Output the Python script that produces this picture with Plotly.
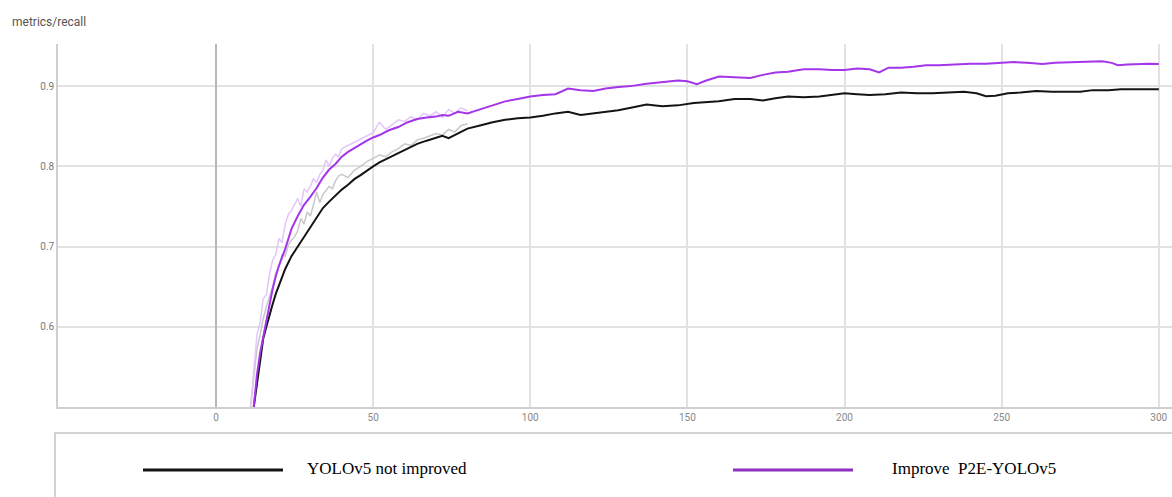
import plotly.graph_objects as go

# ---------------- data ----------------
epochs_base = [12, 13, 14, 15, 16, 17, 18, 19, 20, 22, 24, 26, 28, 30, 32, 34, 36, 38, 40, 42,
               44, 46, 48, 50, 52, 55, 58, 61, 64, 67, 70, 72, 74, 77, 80, 84, 88, 92, 96, 100,
               104, 108, 112, 116, 120, 124, 128, 132, 137, 142, 147, 152, 156, 160, 165, 170,
               174, 178, 182, 187, 192, 196, 200, 204, 208, 213, 218, 223, 228, 233, 238, 242,
               245, 248, 252, 256, 261, 266, 271, 275, 279, 284, 288, 292, 296, 300]
recall_base = [0.500, 0.530, 0.560, 0.585, 0.600, 0.615, 0.628, 0.641, 0.652, 0.672, 0.688, 0.700,
               0.713, 0.725, 0.737, 0.748, 0.756, 0.764, 0.771, 0.777, 0.784, 0.789, 0.795, 0.800,
               0.805, 0.811, 0.817, 0.823, 0.828, 0.832, 0.836, 0.838, 0.835, 0.841, 0.847, 0.851,
               0.855, 0.858, 0.860, 0.861, 0.863, 0.866, 0.868, 0.864, 0.866, 0.868, 0.870, 0.873,
               0.877, 0.875, 0.876, 0.879, 0.880, 0.881, 0.884, 0.884, 0.882, 0.885, 0.887, 0.886,
               0.887, 0.889, 0.891, 0.890, 0.889, 0.890, 0.892, 0.891, 0.891, 0.892, 0.893, 0.891,
               0.8875, 0.888, 0.891, 0.892, 0.894, 0.893, 0.893, 0.893, 0.895, 0.895, 0.896, 0.896,
               0.896, 0.896]

epochs_p2e = [12, 13, 14, 15, 16, 17, 18, 19, 20, 22, 24, 26, 28, 30, 32, 34, 36, 38, 40, 42,
              44, 46, 48, 50, 52, 55, 58, 61, 64, 67, 70, 72, 74, 77, 80, 84, 88, 92, 96, 100,
              104, 108, 112, 116, 120, 124, 128, 132, 137, 142, 147, 150, 153, 156, 160, 165,
              170, 174, 178, 182, 187, 192, 196, 200, 204, 208, 211, 214, 218, 222, 226, 230,
              235, 240, 245, 250, 254, 258, 263, 267, 272, 277, 282, 285, 287, 290, 294, 297, 300]
recall_p2e = [0.500, 0.540, 0.567, 0.587, 0.607, 0.628, 0.647, 0.663, 0.676, 0.697, 0.722, 0.738,
              0.752, 0.762, 0.773, 0.786, 0.796, 0.803, 0.812, 0.818, 0.823, 0.828, 0.832, 0.836,
              0.839, 0.845, 0.849, 0.855, 0.859, 0.861, 0.862, 0.864, 0.863, 0.868, 0.866, 0.871,
              0.876, 0.881, 0.884, 0.887, 0.889, 0.890, 0.897, 0.895, 0.894, 0.897, 0.899, 0.900,
              0.903, 0.905, 0.907, 0.906, 0.9025, 0.907, 0.912, 0.911, 0.910, 0.914, 0.917, 0.918,
              0.921, 0.921, 0.920, 0.920, 0.922, 0.921, 0.917, 0.923, 0.923, 0.924, 0.926, 0.926,
              0.927, 0.928, 0.928, 0.929, 0.930, 0.929, 0.9275, 0.929, 0.9295, 0.930, 0.931, 0.929,
              0.926, 0.927, 0.928, 0.928, 0.9275]

# raw (unsmoothed, faint) values, visible in the early epochs
epochs_raw = [11, 12, 13, 14, 15, 16, 17, 18, 19, 20, 21, 22, 23, 24, 25, 26, 27, 28, 29, 30,
              31, 32, 33, 34, 35, 36, 37, 38, 39, 40, 42, 44, 46, 48, 50, 52, 54, 56, 58, 60,
              62, 64, 66, 68, 70, 72, 74, 76, 78, 80]
raw_p2e = [0.500, 0.550, 0.590, 0.605, 0.635, 0.640, 0.665, 0.683, 0.690, 0.710, 0.705, 0.728,
           0.740, 0.745, 0.752, 0.760, 0.750, 0.772, 0.768, 0.775, 0.785, 0.780, 0.790, 0.795,
           0.808, 0.800, 0.810, 0.815, 0.812, 0.822, 0.826, 0.830, 0.833, 0.838, 0.842, 0.855,
           0.846, 0.852, 0.858, 0.856, 0.862, 0.858, 0.866, 0.863, 0.868, 0.861, 0.871, 0.866,
           0.873, 0.869]
raw_base = [0.500, 0.540, 0.572, 0.590, 0.610, 0.625, 0.638, 0.650, 0.667, 0.675, 0.690, 0.688,
            0.702, 0.708, 0.712, 0.720, 0.735, 0.728, 0.743, 0.738, 0.752, 0.768, 0.755, 0.765,
            0.770, 0.775, 0.772, 0.782, 0.788, 0.790, 0.786, 0.795, 0.800, 0.806, 0.810, 0.814,
            0.812, 0.818, 0.822, 0.828, 0.826, 0.833, 0.835, 0.838, 0.841, 0.839, 0.846, 0.843,
            0.851, 0.853]

x_ticks = [0, 50, 100, 150, 200, 250, 300]
y_ticks = [0.6, 0.7, 0.8, 0.9]
name_base = "YOLOv5 not improved"
name_p2e = "Improve  P2E-YOLOv5"
title_text = "metrics/recall"

C_P2E = "#a435ea"
C_BASE = "#141414"

fig = go.Figure()
fig.add_trace(go.Scatter(x=epochs_raw, y=raw_base, mode="lines",
                         line=dict(color="#c8c8c8", width=1.5), showlegend=False, hoverinfo="skip"))
fig.add_trace(go.Scatter(x=epochs_raw, y=raw_p2e, mode="lines",
                         line=dict(color="#e3c6fb", width=1.5), showlegend=False, hoverinfo="skip"))
fig.add_trace(go.Scatter(x=epochs_base, y=recall_base, mode="lines", name=name_base,
                         line=dict(color=C_BASE, width=2), showlegend=False))
fig.add_trace(go.Scatter(x=epochs_p2e, y=recall_p2e, mode="lines", name=name_p2e,
                         line=dict(color=C_P2E, width=2), showlegend=False))

# body margin is removed below, so figure coords == screenshot coords
W, H = 1172, 497
L, R, T = 58, 0, 44
B = H - 407
pw = W - L - R
ph = H - T - B

def px(xs):
    return (xs - L) / pw

def py(ys):
    return (H - B - ys) / ph

fig.update_layout(
    width=W, height=H,
    margin=dict(l=L, r=R, t=T, b=B),
    paper_bgcolor="white", plot_bgcolor="white",
    font=dict(family="Roboto, Arial, sans-serif", color="#777"),
    xaxis=dict(range=[-50.3, 304.2], tickvals=x_ticks, ticks="", showgrid=True,
               gridcolor="#e2e2e2", gridwidth=1.5, zeroline=True, zerolinecolor="#b8b8b8",
               zerolinewidth=1.5, showline=True, linecolor="#cfcfcf", linewidth=2,
               tickfont=dict(size=10, color="#888"), ticklabeloverflow="allow"),
    yaxis=dict(range=[0.5, 0.9525], tickvals=y_ticks, tickformat=".1f", ticks="",
               showgrid=True, gridcolor="#e2e2e2", gridwidth=1.5, zeroline=False,
               showline=True, linecolor="#cfcfcf", linewidth=1.5,
               tickfont=dict(size=10, color="#777")),
    showlegend=False,
)

fig.add_annotation(text=title_text, xref="paper", yref="paper", x=px(10), y=py(22),
                   xanchor="left", yanchor="middle", showarrow=False,
                   font=dict(size=12, color="#555", family="Roboto, Arial, sans-serif"))

# legend box
fig.add_shape(type="rect", xref="paper", yref="paper", x0=px(55), x1=px(1180),
              y0=py(510), y1=py(433), line=dict(color="#d2d2d2", width=2),
              fillcolor="rgba(0,0,0,0)")
fig.add_shape(type="line", xref="paper", yref="paper", x0=px(143), x1=px(283),
              y0=py(470), y1=py(470), line=dict(color=C_BASE, width=3))
fig.add_shape(type="line", xref="paper", yref="paper", x0=px(733), x1=px(853),
              y0=py(470), y1=py(470), line=dict(color="#8e2fc0", width=3))
fig.add_annotation(text=name_base, xref="paper", yref="paper", x=px(305), y=py(468),
                   xanchor="left", yanchor="middle", showarrow=False,
                   font=dict(size=17, color="#000", family="Liberation Serif, Times New Roman, serif"))
fig.add_annotation(text=name_p2e.replace("  ", "&nbsp;&nbsp;"), xref="paper", yref="paper", x=px(890), y=py(468),
                   xanchor="left", yanchor="middle", showarrow=False,
                   font=dict(size=17, color="#000", family="Liberation Serif, Times New Roman, serif"))

fig.write_html("out.html",
               config={"displayModeBar": False},
               post_script="document.body.style.margin='0';"
                           "document.body.style.padding='0';"
                           "document.documentElement.style.overflow='hidden';")
